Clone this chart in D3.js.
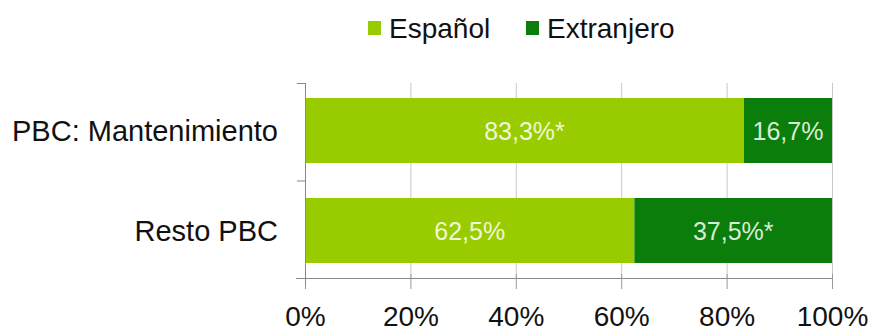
<!DOCTYPE html>
<html>
<head>
<meta charset="utf-8">
<script src="https://cdn.jsdelivr.net/npm/d3@7"></script>
<style>
  body { margin: 0; background: #fff; }
  text { font-family: "Liberation Sans", Arial, sans-serif; }
</style>
</head>
<body>
<div id="chart-area"></div>
<script>
const categories = ['PBC: Mantenimiento', 'Resto PBC'];
const series = ['Español', 'Extranjero'];
const espanol = [83.3, 62.5];
const extranjero = [16.7, 37.5];
const labelsEspanol = ['83,3%*', '62,5%'];
const labelsExtranjero = ['16,7%', '37,5%*'];
const tickValues = [0, 20, 40, 60, 80, 100];

const widthSvg = 869;
const heightSvg = 331;
const margin = { top: 83, right: 37, bottom: 53, left: 305 };
const widthChart = widthSvg - margin.left - margin.right;
const heightChart = heightSvg - margin.top - margin.bottom;
const colors = { 'Español': '#99cc00', 'Extranjero': '#0a7d0a' };

const rows = categories.map((c, i) => ({
  category: c,
  parts: [
    { key: 'Español', x0: 0, x1: espanol[i], label: labelsEspanol[i] },
    { key: 'Extranjero', x0: espanol[i], x1: espanol[i] + extranjero[i], label: labelsExtranjero[i] }
  ]
}));

const scaleX = d3.scaleLinear().domain([0, 100]).range([0, widthChart]);
const scaleY = d3.scaleBand().domain(categories).range([0, heightChart]).paddingInner(0.35).paddingOuter(0.15);

const svg = d3.select('#chart-area').append('svg')
  .attr('width', widthSvg)
  .attr('height', heightSvg);

const chart = svg.append('g')
  .attr('transform', `translate(${margin.left}, ${margin.top})`);

// gridlines
chart.append('g')
  .selectAll('line')
  .data(tickValues.slice(1))
  .enter().append('line')
    .attr('x1', d => scaleX(d) + 0.5)
    .attr('x2', d => scaleX(d) + 0.5)
    .attr('y1', 0)
    .attr('y2', heightChart)
    .attr('stroke', '#c8c8c8');

// bars
const rowGroups = chart.selectAll('.row')
  .data(rows)
  .enter().append('g')
    .attr('class', 'row')
    .attr('transform', d => `translate(0, ${scaleY(d.category)})`);

rowGroups.selectAll('rect')
  .data(d => d.parts)
  .enter().append('rect')
    .attr('x', d => scaleX(d.x0))
    .attr('width', d => scaleX(d.x1) - scaleX(d.x0))
    .attr('height', scaleY.bandwidth())
    .attr('fill', d => colors[d.key]);

rowGroups.selectAll('text')
  .data(d => d.parts)
  .enter().append('text')
    .attr('x', d => scaleX((d.x0 + d.x1) / 2))
    .attr('y', scaleY.bandwidth() / 2)
    .attr('dy', '0.36em')
    .attr('text-anchor', 'middle')
    .attr('font-size', '25px')
    .attr('fill', d => d.key === 'Español' ? '#eef6d6' : '#d8ecd8')
    .text(d => d.label);

// axes
const axisX = d3.axisBottom(scaleX)
  .tickValues(tickValues)
  .tickSize(11)
  .tickFormat(d => d + '%');

const groupAxisX = chart.append('g')
  .attr('transform', `translate(0, ${heightChart})`)
  .call(axisX);
groupAxisX.select('.domain').attr('stroke', '#888').attr('d', `M-9,0.5H${widthChart}`);
groupAxisX.selectAll('.tick line').attr('stroke', '#999').attr('y1', -4);
groupAxisX.selectAll('.tick text')
  .attr('y', 48)
  .attr('dy', 0)
  .attr('font-size', '28px')
  .attr('fill', '#111')
  .attr('font-family', '"Liberation Sans", Arial, sans-serif');

const yTicks = [0, heightChart / 2, heightChart];
const groupAxisY = chart.append('g');
groupAxisY.append('line')
  .attr('x1', 0.5).attr('x2', 0.5)
  .attr('y1', 0).attr('y2', heightChart + 8)
  .attr('stroke', '#888');
groupAxisY.selectAll('.ytick')
  .data(yTicks)
  .enter().append('line')
    .attr('x1', -8).attr('x2', 0.5)
    .attr('y1', d => d + 0.5).attr('y2', d => d + 0.5)
    .attr('stroke', '#888');
groupAxisY.selectAll('.ylabel')
  .data(categories)
  .enter().append('text')
    .attr('x', -27)
    .attr('y', d => scaleY(d) + scaleY.bandwidth() / 2)
    .attr('dy', '0.36em')
    .attr('text-anchor', 'end')
    .attr('font-size', '29px')
    .attr('fill', '#111')
    .text(d => d);

// legend
const legend = svg.append('g')
  .attr('transform', 'translate(368, 38)');
const legendX = [0, 158];
series.forEach((s, i) => {
  const item = legend.append('g').attr('transform', `translate(${legendX[i]}, 0)`);
  item.append('rect')
    .attr('x', 0).attr('y', -17)
    .attr('width', 13).attr('height', 14)
    .attr('fill', colors[s]);
  item.append('text')
    .attr('x', 21)
    .attr('y', 0)
    .attr('font-size', '28px')
    .attr('fill', '#111')
    .text(s);
});
</script>
</body>
</html>
